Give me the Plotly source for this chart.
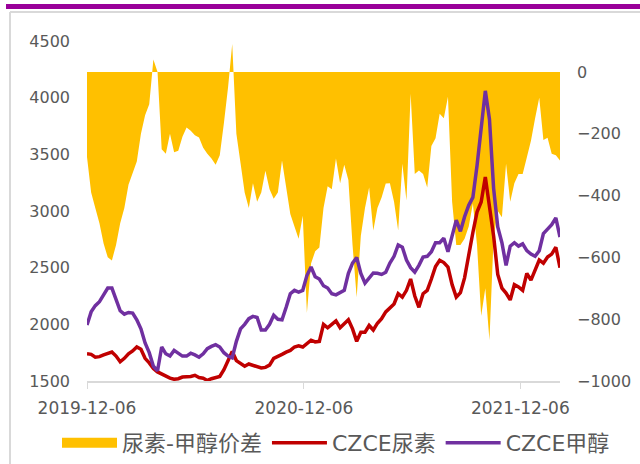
import pandas as pd
import plotly.graph_objects as go

start_date = "2019-12-06"

spread = [
    -275, -390, -440, -490, -555, -600, -610, -560, -490, -440,
    -365, -330, -290, -200, -140, -105, 40, 0, -250, -265,
    -200, -260, -255, -210, -180, -190, -205, -212, -245, -265,
    -280, -300, -270, -165, -50, 90, -200, -295, -390, -440,
    -360, -420, -390, -320, -380, -410, -390, -287, -380, -460,
    -500, -540, -465, -780, -620, -580, -568, -440, -370, -380,
    -280, -360, -300, -350, -560, -729, -530, -440, -374, -513,
    -440, -406, -361, -360, -420, -513, -297, -416, -71, -330,
    -319, -330, -374, -240, -215, -135, -150, -80, -420, -560,
    -560, -540, -500, -426, -560, -790, -700, -868, -535, -450,
    -470, -297, -420, -360, -330, -330, -277, -223, -150, -84,
    -220, -213, -265, -270, -287,
]

urea = [
    1740, 1735, 1710, 1715, 1730, 1745, 1755, 1720, 1670, 1700,
    1740, 1765, 1800, 1780, 1700, 1660, 1610, 1580, 1560, 1545,
    1525, 1515, 1520, 1535, 1535, 1540, 1550, 1530, 1525, 1505,
    1520, 1530, 1540, 1600, 1680, 1760, 1680, 1650, 1630, 1650,
    1640, 1625, 1615, 1620, 1640, 1700, 1715, 1735, 1755, 1770,
    1800, 1810, 1800, 1835, 1860, 1845, 1850, 2000, 1970, 2000,
    2030, 1970, 2010, 2040, 1960, 1850, 1930, 1930, 1990, 1950,
    2010, 2050, 2110, 2145, 2180, 2270, 2240, 2300, 2400, 2250,
    2150, 2270, 2300, 2400, 2510, 2565, 2545, 2506, 2350, 2240,
    2280, 2410, 2620, 2810, 2990, 3080, 3300, 3060, 2780, 2440,
    2320, 2276, 2215, 2350, 2330, 2300, 2450, 2390, 2480, 2568,
    2540, 2594, 2620, 2680, 2500,
]

methanol = [
    1995, 2110, 2165, 2200, 2260, 2320, 2320, 2230, 2120, 2090,
    2105, 2100, 2040, 1960, 1835, 1750, 1630, 1590, 1800, 1740,
    1720, 1770, 1747, 1720, 1720, 1745, 1730, 1710, 1740, 1785,
    1805, 1820, 1800, 1750, 1720, 1705, 1850, 1960, 2000, 2050,
    2070, 2060, 1950, 1950, 2000, 2080, 2045, 2040, 2150, 2270,
    2300, 2285, 2300, 2430, 2506, 2420, 2400, 2340, 2320, 2270,
    2260, 2280, 2300, 2450, 2540, 2590, 2450, 2364, 2410, 2453,
    2450, 2440, 2460, 2541, 2600, 2700, 2680, 2568, 2500, 2460,
    2520, 2594, 2600, 2640, 2720, 2720, 2760, 2640, 2780, 2920,
    2820, 2950, 3050, 3120, 3400, 3750, 4060, 3810, 3200, 2860,
    2720, 2520, 2690, 2720, 2690, 2710, 2650, 2620, 2600, 2650,
    2800, 2840, 2880, 2940, 2770,
]

x_tick_dates = ["2019-12-06", "2020-12-06", "2021-12-06"]
left_ticks = [1500, 2000, 2500, 3000, 3500, 4000, 4500]
right_ticks = [-1000, -800, -600, -400, -200, 0]

names = ["尿素-甲醇价差", "CZCE尿素", "CZCE甲醇"]

dates = pd.date_range(start_date, periods=len(spread), freq="7D")

YELLOW = "#FFC000"
RED = "#C00000"
PURPLE = "#7030A0"
GRAY = "#595959"

# figure geometry (pixels)
W, H = 640, 464
L, R, T, B = 87, 80, 41, 83
PW = W - L - R
PH = H - T - B


def px_x(p):
    return (p - L) / PW


def px_y(p):
    return (H - B - p) / PH


fig = go.Figure()

fig.add_trace(go.Scatter(
    x=dates, y=spread, name=names[0], mode="lines",
    line=dict(width=0, color=YELLOW), fill="tozeroy", fillcolor=YELLOW,
    yaxis="y", showlegend=False, hoverinfo="skip",
))
fig.add_trace(go.Scatter(
    x=[None], y=[None], name=names[0], mode="lines",
    line=dict(width=12, color=YELLOW), yaxis="y",
))
fig.add_trace(go.Scatter(
    x=dates, y=urea, name=names[1], mode="lines",
    line=dict(width=3.5, color=RED), yaxis="y2",
))
fig.add_trace(go.Scatter(
    x=dates, y=methanol, name=names[2], mode="lines",
    line=dict(width=3.5, color=PURPLE), yaxis="y2",
))

tick_font = dict(family="DejaVu Sans", size=16, color=GRAY)

fig.update_layout(
    width=W, height=H,
    margin=dict(l=L, r=R, t=T, b=B, pad=0, autoexpand=False),
    paper_bgcolor="white", plot_bgcolor="white",
    showlegend=True,
    legend=dict(
        orientation="h", x=px_x(57), xanchor="left", y=px_y(443), yanchor="middle",
        font=dict(family="DejaVu Sans, Noto Sans CJK SC", size=22, color=GRAY),
        itemwidth=55, bgcolor="rgba(0,0,0,0)",
    ),
    xaxis=dict(
        type="date",
        range=[dates[0], dates[-1]],
        tickvals=x_tick_dates,
        tickformat="%Y-%m-%d",
        ticks="outside", ticklen=6, tickcolor="#d9d9d9", tickwidth=1,
        showline=True, linecolor="#d9d9d9", linewidth=2,
        showgrid=False, zeroline=False,
        tickfont=dict(family="DejaVu Sans", size=17, color=GRAY),
        ticklabelstandoff=5, automargin=False,
    ),
    yaxis=dict(
        side="right", range=[-1000, 100], tickvals=right_ticks,
        showgrid=False, zeroline=False, showline=False,
        tickfont=tick_font, ticklabelstandoff=16, automargin=False,
    ),
    yaxis2=dict(
        side="left", overlaying="y", range=[1500, 4500], tickvals=left_ticks,
        showgrid=False, zeroline=False, showline=False,
        tickfont=tick_font, ticklabelstandoff=16, automargin=False,
    ),
    shapes=[
        dict(type="rect", xref="paper", yref="paper",
             x0=px_x(6), x1=px_x(640), y0=px_y(9), y1=px_y(4),
             fillcolor="#990099", line=dict(width=0), layer="above"),
        dict(type="line", xref="paper", yref="paper",
             x0=px_x(10), x1=px_x(640), y0=px_y(12), y1=px_y(12),
             line=dict(color="#d9d9d9", width=2)),
        dict(type="line", xref="paper", yref="paper",
             x0=px_x(10), x1=px_x(10), y0=px_y(12), y1=px_y(464),
             line=dict(color="#d9d9d9", width=2)),
    ],
)

fig.write_html(
    "out.html",
    config={"displayModeBar": False},
    post_script="document.body.style.margin='0';document.body.style.overflow='hidden';",
)
